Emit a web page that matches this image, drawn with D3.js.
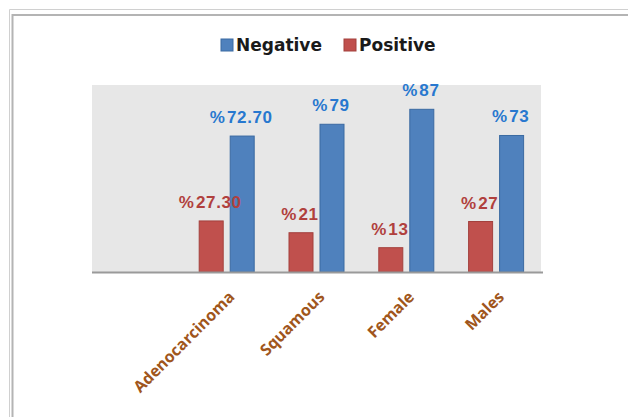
<html>
<head>
    <script src = "https://d3js.org/d3.v7.min.js"></script>
    <style>
        body { margin: 0; background: #fff; }
    </style>
</head>
<body>
<script>

    // data (first category is an empty slot)
    var categories = ["", "Adenocarcinoma", "Squamous", "Female", "Males"];
    var negative = [null, 72.70, 79, 87, 73];
    var positive = [null, 27.30, 21, 13, 27];
    var negLabels = ["", "72.70", "79", "87", "73"];
    var posLabels = ["", "27.30", "21", "13", "27"];
    var seriesNames = ["Negative", "Positive"];

    var W = 628, H = 417;
    var plot = {left: 92, right: 541, top: 85, bottom: 272};

    var svg = d3.select("body").append("svg")
        .attr("width", W)
        .attr("height", H);

    // frame lines (picture border)
    svg.append("path")
        .attr("d", "M9.5," + H + "V9.5H" + W)
        .attr("fill", "none").attr("stroke", "#d0d0d0").attr("stroke-width", 1);
    svg.append("path")
        .attr("d", "M12.5," + H + "V15H" + W)
        .attr("fill", "none").attr("stroke", "#b4b4b4").attr("stroke-width", 2);

    var x = d3.scaleBand()
        .domain(categories.map(function (d, i) { return i; }))
        .range([plot.left, plot.right]);

    var y = d3.scaleLinear()
        .domain([0, 100])
        .range([plot.bottom, plot.top]);

    // plot background
    svg.append("rect")
        .attr("x", plot.left)
        .attr("y", plot.top)
        .attr("width", plot.right - plot.left)
        .attr("height", plot.bottom - plot.top)
        .attr("fill", "#e7e7e7");

    var barW = 24, gap = 7;
    var colors = {Negative: "#4f81bd", Positive: "#c0504d"};
    var strokes = {Negative: "#3b6aa2", Positive: "#a3403d"};
    var labelColors = {Negative: "#2878cf", Positive: "#b0403d"};

    var series = [
        {name: "Positive", values: positive, labels: posLabels, off: -gap / 2 - barW},
        {name: "Negative", values: negative, labels: negLabels, off: gap / 2}
    ];

    var barLayer = svg.append("g");
    var labelLayer = svg.append("g");

    series.forEach(function (s) {
        var rows = s.values.map(function (v, i) { return {v: v, i: i, label: s.labels[i]}; })
            .filter(function (d) { return d.v != null; });

        barLayer.append("g").selectAll("rect")
            .data(rows)
            .enter()
            .append("rect")
            .attr("x", function (d) { return x(d.i) + x.bandwidth() / 2 + s.off; })
            .attr("y", function (d) { return y(d.v); })
            .attr("width", barW)
            .attr("height", function (d) { return y(0) - y(d.v); })
            .attr("fill", colors[s.name])
            .attr("stroke", strokes[s.name])
            .attr("stroke-width", 1);

        var t = labelLayer.append("g").selectAll("text")
            .data(rows)
            .enter()
            .append("text")
            .attr("x", function (d) { return x(d.i) + x.bandwidth() / 2 + s.off + barW / 2 - 1; })
            .attr("y", function (d) { return y(d.v) - 13; })
            .attr("text-anchor", "middle")
            .attr("fill", labelColors[s.name])
            .style("font-family", "'Liberation Sans', Arial, sans-serif")
            .style("font-weight", "bold")
            .style("font-size", "17px")
            .style("letter-spacing", "0.6px");
        t.append("tspan").text("%");
        t.append("tspan").attr("dx", 1.5).text(function (d) { return d.label; });
    });

    // x axis line
    svg.append("line")
        .attr("x1", plot.left).attr("x2", plot.right + 2)
        .attr("y1", plot.bottom + 0.5).attr("y2", plot.bottom + 0.5)
        .attr("stroke", "#9a9a9a")
        .attr("stroke-width", 2);

    // category labels, rotated
    svg.append("g")
        .selectAll("text")
        .data(categories.map(function (c, i) { return {c: c, i: i}; }).filter(function (d) { return d.c; }))
        .enter()
        .append("text")
        .attr("transform", function (d) {
            return "translate(" + (x(d.i) + x.bandwidth() / 2 + 9) + "," + 298 + ") rotate(-45)";
        })
        .attr("text-anchor", "end")
        .attr("fill", "#a0561c")
        .style("font-family", "'Open Sans', sans-serif")
        .style("font-weight", "bold")
        .style("font-size", "16px")
        .text(function (d) { return d.c; });

    // legend
    var legend = svg.append("g");
    var legItems = [
        {name: seriesNames[0], x: 221},
        {name: seriesNames[1], x: 344}
    ];
    legItems.forEach(function (d) {
        legend.append("rect")
            .attr("x", d.x).attr("y", 39)
            .attr("width", 12).attr("height", 12)
            .attr("fill", colors[d.name])
            .attr("stroke", strokes[d.name]);
        legend.append("text")
            .attr("x", d.x + 15).attr("y", 51)
            .attr("fill", "#1a1a1a")
            .style("font-family", "'DejaVu Sans', sans-serif")
            .style("font-weight", "bold")
            .style("font-size", "17px")
            .text(d.name);
    });

</script>
</body>
</html>
